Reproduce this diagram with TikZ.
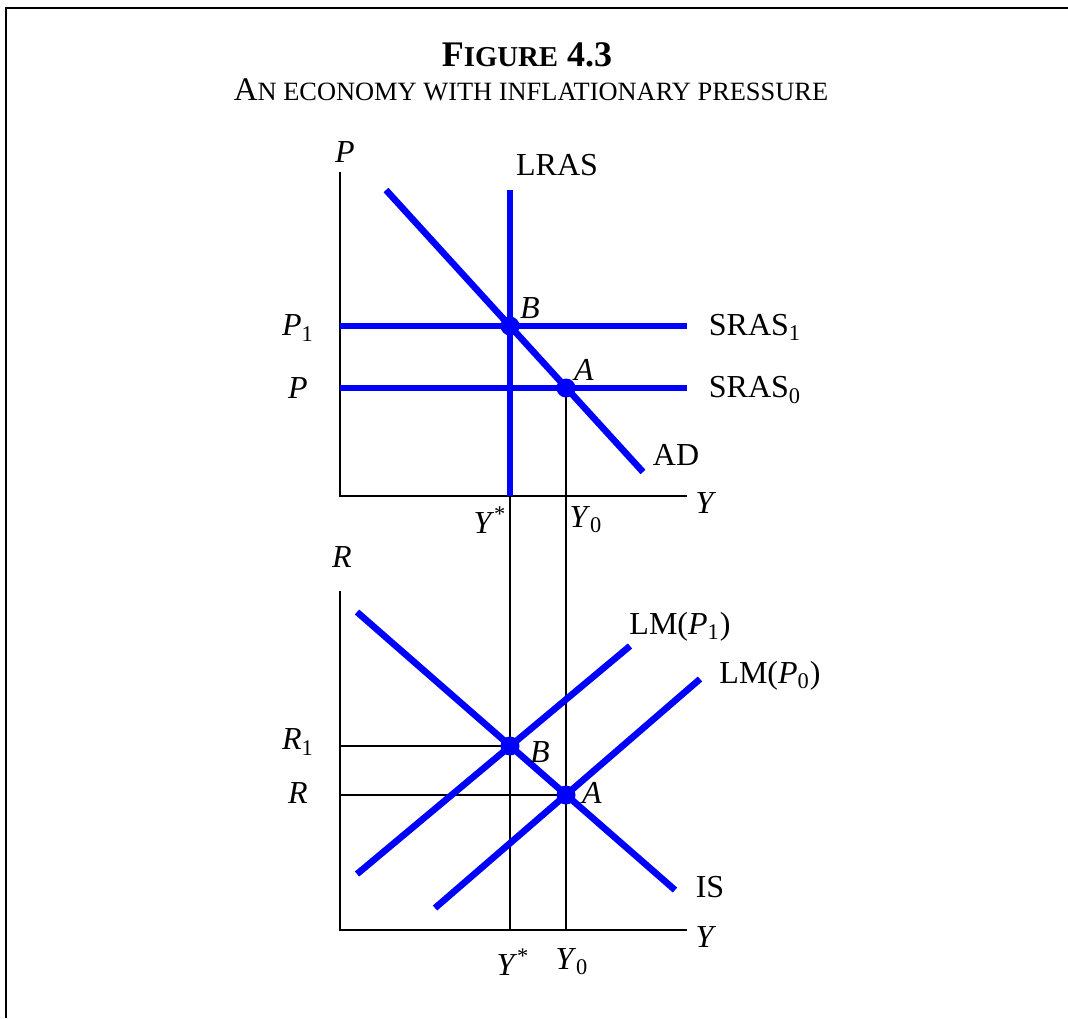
\documentclass[tikz,border=0pt]{standalone}
\usepackage{fontspec}
\setmainfont{Liberation Serif}
\newcommand{\isub}[2]{\textit{#1}\textsubscript{#2}}
\newcommand{\istar}[1]{\textit{#1}\textsuperscript{*}}
\begin{document}
\begin{tikzpicture}[x=0.5pt,y=-0.5pt,
  curve/.style={draw=blue, line width=3.3pt},
  axisline/.style={draw=black, line width=1pt},
  guide/.style={draw=black, line width=0.7pt},
  dot/.style={circle, fill=blue, inner sep=0pt, minimum size=9.5pt},
  lbl/.style={font=\fontsize{16}{19}\selectfont, inner sep=0pt},
]
\useasboundingbox (0,0) rectangle (1068,1018);
% frame
\draw[line width=1.2pt] (6,1018) -- (6,8) -- (1068,8);
% title
\node[font=\bfseries\fontsize{18}{21}\selectfont, inner sep=0pt] (title) at (527,55)
  {F{\fontsize{14.4}{17}\selectfont IGURE} 4.3};
\node[font=\fontsize{16.5}{19}\selectfont, inner sep=0pt] (subtitle) at (531,90)
  {A{\fontsize{13.2}{16}\selectfont N ECONOMY WITH INFLATIONARY PRESSURE}};

% ===== top graph =====
\coordinate (Ptop) at (340,172);
\coordinate (O1) at (340,496);
\coordinate (X1) at (687,496);
\draw[axisline] (Ptop) -- (O1) -- (X1);

\coordinate (B1) at (510,326);
\coordinate (A1) at (566,388);
\coordinate (LRAStop) at (510,190);
\coordinate (LRASbot) at (510,496);
\coordinate (ADtop) at (386,190);
\coordinate (ADbot) at (643,472);
\coordinate (S1l) at (340,326);
\coordinate (S1r) at (687,326);
\coordinate (S0l) at (340,388);
\coordinate (S0r) at (687,388);

% ===== bottom graph =====
\coordinate (Rtop) at (340,591);
\coordinate (O2) at (340,930);
\coordinate (X2) at (687,930);

\coordinate (B2) at (510,746);
\coordinate (A2) at (566,795);
\coordinate (B2y) at (510,930);
\coordinate (A2y) at (566,930);
\coordinate (R1l) at (340,746);
\coordinate (R0l) at (340,795);
\coordinate (IStop) at (357,612);
\coordinate (ISbot) at (675,890);
\coordinate (L1bot) at (357,874);
\coordinate (L1top) at (630,646);
\coordinate (L0bot) at (435,908);
\coordinate (L0top) at (700,679);

% guides
\draw[guide] (LRASbot) -- (B2y);
\draw[guide] (A1) -- (A2y);
\draw[guide] (R1l) -- (B2);
\draw[guide] (R0l) -- (A2);
\draw[axisline] (Rtop) -- (O2) -- (X2);

% top curves
\draw[curve] (S1l) -- (S1r);
\draw[curve] (S0l) -- (S0r);
\draw[curve] (LRAStop) -- (LRASbot);
\draw[curve] (ADtop) -- (ADbot);
\node[dot] (dB1) at (B1) {};
\node[dot] (dA1) at (A1) {};

% bottom curves
\draw[curve] (IStop) -- (ISbot);
\draw[curve] (L1bot) -- (L1top);
\draw[curve] (L0bot) -- (L0top);
\node[dot] (dB2) at (B2) {};
\node[dot] (dA2) at (A2) {};

% top labels
\node[lbl] (lP) at (345,152) {\textit{P}};
\node[lbl] (lLRAS) at (557,165) {LRAS};
\node[lbl] (lP1) at (298,328) {\isub{P}{1}};
\node[lbl] (lP0) at (298,388) {\textit{P}};
\node[lbl] (lS1) at (755,327) {SRAS\textsubscript{1}};
\node[lbl] (lS0) at (755,390) {SRAS\textsubscript{0}};
\node[lbl] (lAD) at (676,455) {AD};
\node[lbl] (lB1) at (530,308) {\textit{B}};
\node[lbl] (lA1) at (584,370) {\textit{A}};
\node[lbl] (lY1) at (706,503) {\textit{Y}};
\node[lbl] (lYs1) at (490,520) {\istar{Y}};
\node[lbl] (lY01) at (586,520) {\isub{Y}{0}};

% bottom labels
\node[lbl] (lR) at (342,557) {\textit{R}};
\node[lbl] (lLM1) at (680,627) {LM(\isub{P}{1})};
\node[lbl] (lLM0) at (770,676) {LM(\isub{P}{0})};
\node[lbl] (lIS) at (710,887) {IS};
\node[lbl] (lR1) at (298,742) {\isub{R}{1}};
\node[lbl] (lR0) at (298,793) {\textit{R}};
\node[lbl] (lB2) at (540,752) {\textit{B}};
\node[lbl] (lA2) at (592,793) {\textit{A}};
\node[lbl] (lY2) at (706,937) {\textit{Y}};
\node[lbl] (lYs2) at (513,962) {\istar{Y}};
\node[lbl] (lY02) at (572,962) {\isub{Y}{0}};
\end{tikzpicture}
\end{document}
